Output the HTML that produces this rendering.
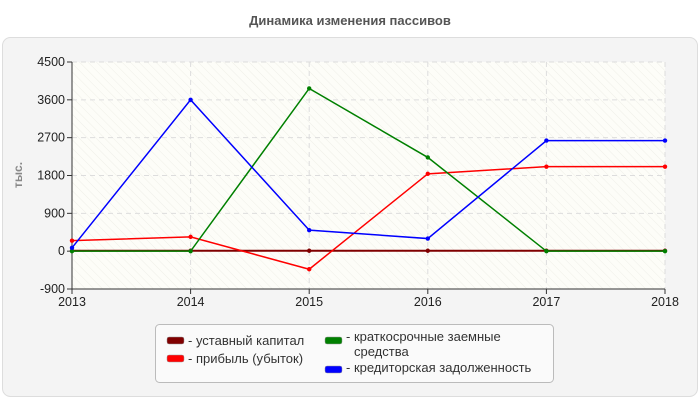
<!DOCTYPE html>
<html><head><meta charset="utf-8"><style>
body{margin:0;background:#fff;font-family:"Liberation Sans",sans-serif}
svg text{font-family:"Liberation Sans",sans-serif}
</style></head><body>
<svg width="700" height="400" xmlns="http://www.w3.org/2000/svg">
<defs><pattern id="h" width="6" height="6" patternUnits="userSpaceOnUse" patternTransform="rotate(-45)"><rect width="6" height="6" fill="#fdfdf8"/><line x1="0" y1="0" x2="0" y2="6" stroke="#efefe8" stroke-width="1"/></pattern></defs>
<text x="350" y="25" text-anchor="middle" font-size="13" font-weight="bold" fill="#555">Динамика изменения пассивов</text>
<rect x="2.5" y="37.5" width="695" height="359" rx="8" fill="#f4f4f4" stroke="#ddd"/>
<rect x="72" y="62" width="593" height="227" fill="url(#h)"/>
<g id="grid"></g><g id="axes"></g><g id="series"></g>
<text transform="translate(22,175) rotate(-90)" text-anchor="middle" font-size="12" font-weight="bold" fill="#888">тыс.</text>
<g>
<rect x="155.5" y="324.5" width="398" height="58" rx="4" fill="#fafafa" stroke="#bbb"/>
<rect x="167" y="337" width="17" height="7" rx="2" fill="#800000" stroke="#999" stroke-width="0.5"/>
<text x="188" y="345" font-size="13" fill="#333">- уставный капитал</text>
<rect x="167" y="355" width="17" height="7" rx="2" fill="#ff0000" stroke="#999" stroke-width="0.5"/>
<text x="188" y="363" font-size="13" fill="#333">- прибыль (убыток)</text>
<rect x="325" y="337" width="17" height="7" rx="2" fill="#008000" stroke="#999" stroke-width="0.5"/>
<text x="346" y="341" font-size="13" fill="#333">- краткосрочные заемные</text>
<text x="354" y="356" font-size="13" fill="#333">средства</text>
<rect x="325" y="366" width="17" height="7" rx="2" fill="#0000ff" stroke="#999" stroke-width="0.5"/>
<text x="346" y="372" font-size="13" fill="#333">- кредиторская задолженность</text>
</g>
</svg>
<script>
const years=[2013,2014,2015,2016,2017,2018];
const yTicks=[-900,0,900,1800,2700,3600,4500];
const capital=[10,10,10,10,10,10];
const profit=[250,340,-430,1840,2010,2010];
const shortLoans=[0,0,3870,2230,0,0];
const payables=[80,3600,500,300,2630,2630];
const NS="http://www.w3.org/2000/svg";
const X0=72,X1=665,Y0=62,Y1=289,YMIN=-900,YMAX=4500;
const xs=i=>X0+i*(X1-X0)/(years.length-1);
const ys=v=>Y1-(v-YMIN)*(Y1-Y0)/(YMAX-YMIN);
function mk(t,a,p){const e=document.createElementNS(NS,t);for(const k in a)e.setAttribute(k,a[k]);p.appendChild(e);return e;}
const grid=document.getElementById('grid'),axes=document.getElementById('axes'),ser=document.getElementById('series');
yTicks.forEach(v=>{const y=ys(v);
 if(v!==YMIN){const l=mk('line',{x1:X0,x2:X1,y1:y,y2:y,stroke:'#ddd','stroke-dasharray':'5,4'},grid);
 
 }
 mk('line',{x1:X0-5,x2:X0,y1:y,y2:y,stroke:'#333'},axes);
 const t=mk('text',{x:X0-7,y:y+4,'text-anchor':'end','font-size':12.5,fill:'#222'},axes);t.textContent=v;
 
 
});
years.forEach((yr,i)=>{const x=xs(i);
 if(i>0){const l=mk('line',{x1:x,x2:x,y1:Y0,y2:Y1,stroke:'#ddd','stroke-dasharray':'5,4'},grid);
 
 }
 mk('line',{x1:x,x2:x,y1:Y1,y2:Y1+5,stroke:'#333'},axes);
 const t=mk('text',{x:x,y:Y1+17,'text-anchor':'middle','font-size':12.5,fill:'#222'},axes);t.textContent=yr;
 
 
});
mk('line',{x1:X0,x2:X0,y1:Y0,y2:Y1,stroke:'#333'},axes);
mk('line',{x1:X0,x2:X1,y1:Y1,y2:Y1,stroke:'#333'},axes);
[[capital,'#800000','series-capital',2],[profit,'#ff0000','series-profit',1.5],[shortLoans,'#008000','series-short-loans',1.5],[payables,'#0000ff','series-payables',1.5]].forEach(([d,c,n,w])=>{
 const g=mk('g',{},ser);
 
 
 mk('polyline',{points:d.map((v,i)=>xs(i)+','+ys(v)).join(' '),fill:'none',stroke:c,'stroke-width':w},g);
 d.forEach((v,i)=>{const p=mk('circle',{cx:xs(i),cy:ys(v),r:2.2,fill:c},g);
 
 });
});
</script>
</body></html>
